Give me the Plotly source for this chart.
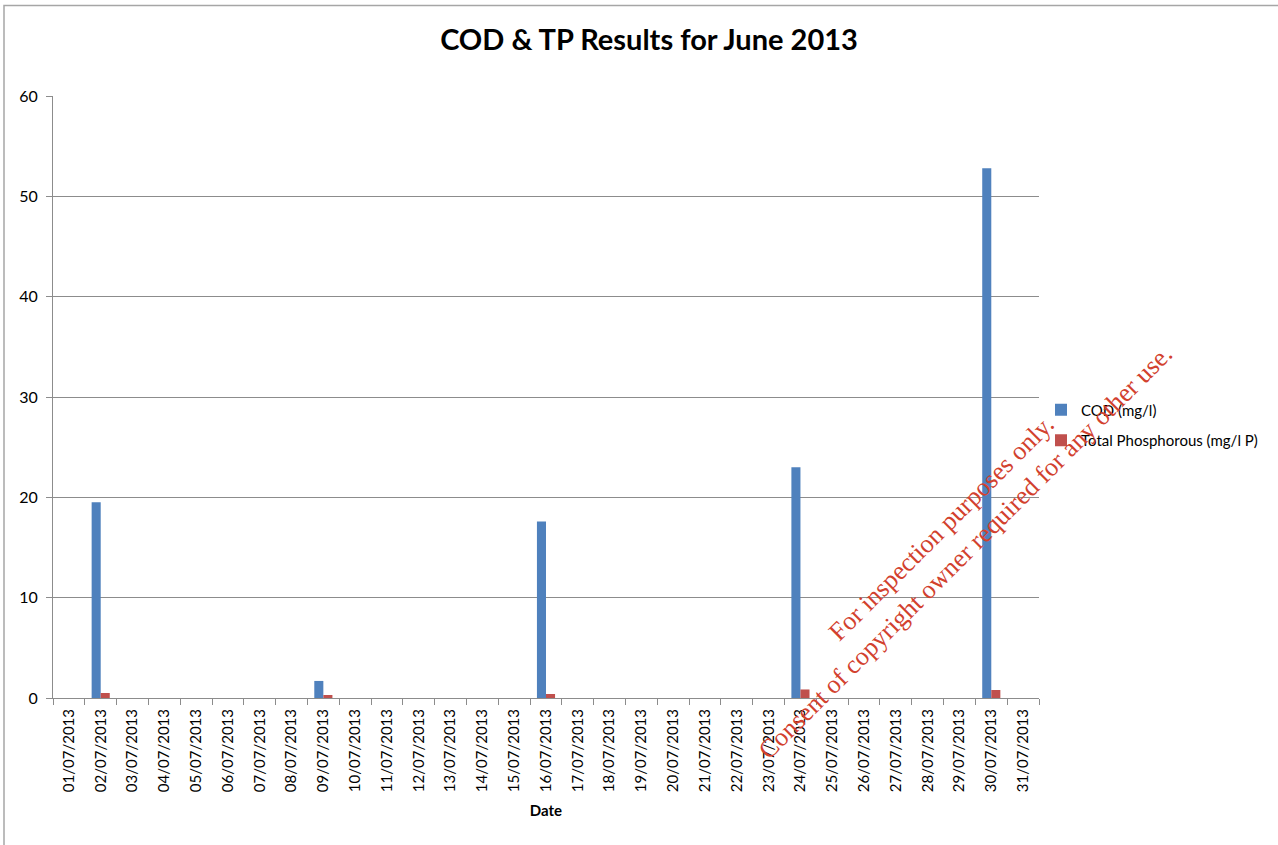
import plotly.graph_objects as go

dates = [f"{d:02d}/07/2013" for d in range(1, 32)]

cod_values = [None, 19.5, None, None, None, None, None, None, 1.7, None,
              None, None, None, None, None, 17.6, None, None, None, None,
              None, None, None, 23.0, None, None, None, None, None, 52.8, None]
tp_values = [None, 0.5, None, None, None, None, None, None, 0.3, None,
             None, None, None, None, None, 0.4, None, None, None, None,
             None, None, None, 0.85, None, None, None, None, None, 0.8, None]

y_ticks = [0, 10, 20, 30, 40, 50, 60]

W, H = 1278, 845
L, R, T, B = 53, 239, 96, 147
PW, PH = W - L - R, H - T - B


def px_x(px):
    return (px - L) / PW


def px_y(py):
    return (H - B - py) / PH


FONT = "Lato, Carlito, Calibri, sans-serif"
GRID = "#8c8c8c"

fig = go.Figure()
fig.add_trace(go.Bar(x=dates, y=cod_values, name="COD (mg/l)",
                     marker=dict(color="#4F81BD", line=dict(width=0)),
                     legendgroup="a"))
fig.add_trace(go.Bar(x=dates, y=tp_values, name="Total Phosphorous (mg/l P)",
                     marker=dict(color="#C0504D", line=dict(width=0)),
                     legendgroup="b"))

fig.update_layout(
    width=W, height=H,
    margin=dict(l=L, r=R, t=T, b=B, autoexpand=False),
    paper_bgcolor="white", plot_bgcolor="white",
    barmode="group", bargap=0.43, bargroupgap=0,
    font=dict(family=FONT, color="#000000", size=16),
    title=dict(text="<b>COD &amp; TP Results for June 2013</b>",
               x=(649) / W, xanchor="center", y=1 - 40 / H, yanchor="middle",
               font=dict(family=FONT, size=29, color="#000000")),
    showlegend=True,
    legend=dict(x=px_x(1041), xanchor="left", y=px_y(425), yanchor="middle",
                traceorder="grouped", tracegroupgap=8,
                font=dict(family=FONT, size=15, color="#000000"),
                bgcolor="rgba(0,0,0,0)", itemclick=False),
    xaxis=dict(type="category", categoryorder="array", categoryarray=dates,
               tickangle=-90, tickson="boundaries", ticks="outside",
               ticklen=6, tickcolor=GRID, showline=True, linecolor=GRID,
               linewidth=1, showgrid=False, ticklabelstandoff=4,
               tickfont=dict(family=FONT, size=15, color="#000000"),
               title=dict(text="<b>Date</b>", standoff=14,
                          font=dict(family=FONT, size=15, color="#000000")),
               automargin=False),
    yaxis=dict(range=[0, 60], tickvals=y_ticks, ticks="outside", ticklen=6,
               tickcolor=GRID, showline=True, linecolor=GRID, linewidth=1,
               showgrid=True, gridcolor=GRID, gridwidth=1, zeroline=False,
               ticklabelstandoff=5,
               tickfont=dict(family=FONT, size=16, color="#000000"),
               automargin=False),
    shapes=[dict(type="rect", xref="paper", yref="paper",
                 x0=px_x(4), x1=px_x(1320), y0=px_y(880), y1=px_y(5.5),
                 line=dict(color="#a6a6a6", width=1.5), layer="below")],
    annotations=[dict(
        text="For inspection purposes only.<br>Consent of copyright owner required for any other use.",
        xref="paper", yref="paper", x=px_x(953), y=px_y(540),
        xanchor="center", yanchor="middle", textangle=-45, showarrow=False,
        font=dict(family="Liberation Serif, Times New Roman, serif", size=26,
                  color="#D2412E"))],
)

fig.write_html("out.html", config={"displayModeBar": False},
               post_script="document.body.style.margin='0';document.body.style.padding='0';")
